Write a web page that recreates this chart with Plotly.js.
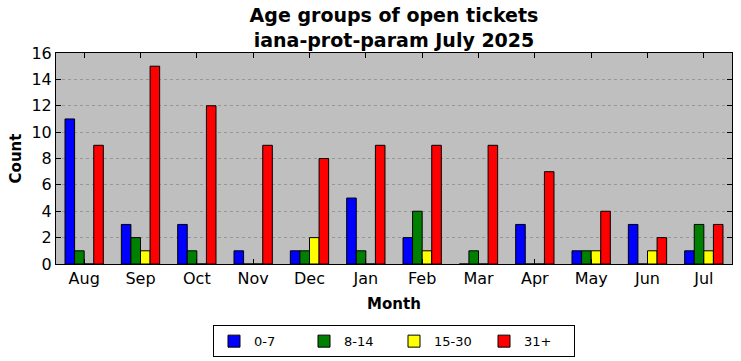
<!DOCTYPE html>
<html>
<head>
<meta charset="utf-8">
<script src="https://cdn.plot.ly/plotly-3.0.1.min.js"></script>
<style>html,body{margin:0;padding:0;background:#fff;}#chart{width:741px;height:361px;}</style>
</head>
<body>
<div id="chart"></div>
<script>
const months = ["Aug","Sep","Oct","Nov","Dec","Jan","Feb","Mar","Apr","May","Jun","Jul"];
const age0to7   = [11, 3, 3, 1, 1, 5, 2, 0, 3, 1, 3, 1];
const age8to14  = [1, 2, 1, 0, 1, 1, 4, 1, 0, 1, 0, 3];
const age15to30 = [0, 1, 0, 0, 2, 0, 1, 0, 0, 1, 1, 1];
const age31plus = [9, 15, 12, 9, 8, 9, 9, 9, 7, 4, 2, 3];
const seriesNames = ["0-7", "8-14", "15-30", "31+"];
const seriesColors = ["#0000ff", "#008000", "#ffff00", "#ff0000"];
const seriesValues = [age0to7, age8to14, age15to30, age31plus];

const traces = seriesValues.map((vals, i) => ({
  type: "bar",
  x: months,
  y: vals,
  name: seriesNames[i],
  marker: {color: seriesColors[i], line: {color: "#000", width: 1}}
}));

const layout = {
  width: 741, height: 361,
  margin: {l: 56, r: 9, t: 53, b: 97, autoexpand: false},
  paper_bgcolor: "#ffffff",
  plot_bgcolor: "#bfbfbf",
  font: {family: "DejaVu Sans", color: "#000", size: 16},
  barmode: "group",
  bargap: 0.32,
  bargroupgap: 0,
  title: {text: "<b>Age groups of open tickets<br>iana-prot-param July 2025</b>", font: {size: 19}, x: 0.5, xref: "paper", xanchor: "center", y: 0.938, yref: "container", yanchor: "top"},
  xaxis: {
    title: {text: "<b>Month</b>", font: {size: 15}, standoff: 11},
    range: [-0.5, 11.5],
    ticks: "inside", ticklen: 5, tickcolor: "#000",
    showline: true, linecolor: "#000", linewidth: 1, mirror: "ticks",
    showgrid: false, zeroline: false,
    tickfont: {size: 16}
  },
  yaxis: {
    title: {text: "<b>Count</b>", font: {size: 15}, standoff: 6},
    range: [0, 16], dtick: 2,
    ticks: "inside", ticklen: 5, tickcolor: "#000",
    showline: true, linecolor: "#000", linewidth: 1, mirror: "ticks",
    showgrid: true, gridcolor: "#8c8c8c", griddash: "dot", gridwidth: 0.8,
    zeroline: false,
    tickfont: {size: 16}
  },
  legend: {
    orientation: "h", x: 0.5, xanchor: "center", y: -0.29, yanchor: "top",
    bordercolor: "#000", borderwidth: 1, bgcolor: "#fff",
    font: {size: 13}, itemwidth: 30, entrywidth: 45
  },
  showlegend: true
};

Plotly.newPlot("chart", traces, layout, {displayModeBar: false, staticPlot: true});
</script>
</body>
</html>
